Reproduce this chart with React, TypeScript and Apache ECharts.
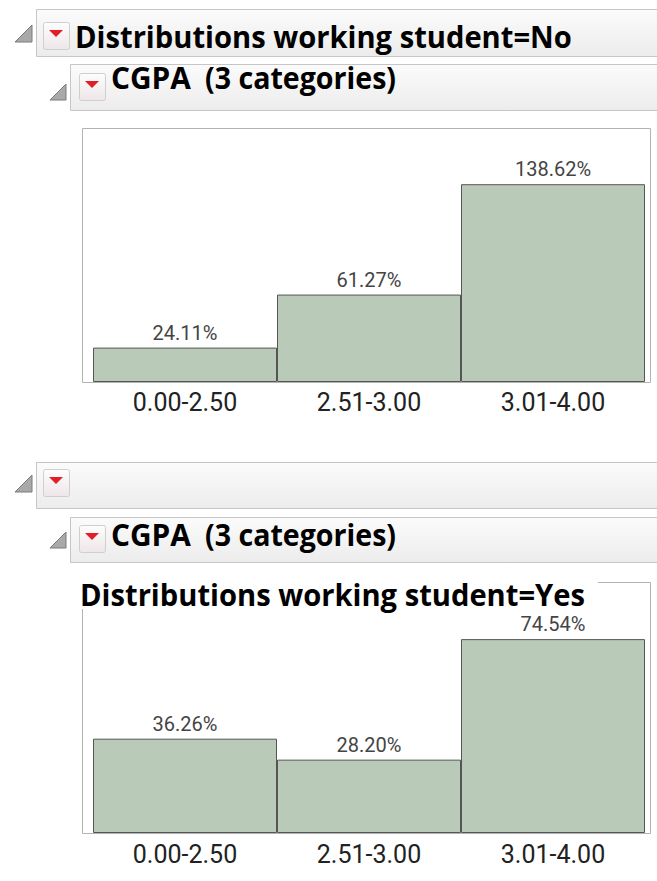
import React, { useEffect, useRef } from "react";
import * as echarts from "echarts";

const categories = ["0.00-2.50", "2.51-3.00", "3.01-4.00"];
const noValues = [24.11, 61.27, 138.62];
const yesValues = [36.26, 28.2, 74.54];
const titleNo = "Distributions working student=No";
const titleYes = "Distributions working student=Yes";
const varName = "CGPA";
const varNote = "(3 categories)";

const HFONT = '"Open Sans"';
const BAR = "#b9cbb8";

function measure(text: string, weight: string, size: number, family: string) {
  const ctx = document.createElement("canvas").getContext("2d") as CanvasRenderingContext2D;
  ctx.font = `${weight} ${size}px ${family}`;
  return ctx.measureText(text).width;
}

export default function App() {
  const ref = useRef<HTMLDivElement>(null);
  useEffect(() => {
    if (!ref.current) return;
    const chart = echarts.init(ref.current, null, { renderer: "svg" });

    const sTitle = 497 / measure(titleNo, "bold", 30, HFONT);
    const sName = 80 / measure(varName, "bold", 30, HFONT);
    const sNote = 191 / measure(varNote, "bold", 30, HFONT);

    const grad = () =>
      new echarts.graphic.LinearGradient(0, 0, 0, 1, [
        { offset: 0, color: "#fbfbfb" },
        { offset: 1, color: "#ececec" },
      ]);
    const iconGrad = () =>
      new echarts.graphic.LinearGradient(0, 0, 0, 1, [
        { offset: 0, color: "#fdfdfd" },
        { offset: 1, color: "#eee6e8" },
      ]);

    const headerBox = (x: number, y: number, h: number) => ({
      type: "rect",
      shape: { x: x + 0.5, y: y + 0.5, width: 700, height: h },
      style: { fill: grad(), stroke: "#c6c6c6", lineWidth: 1 },
    });
    const disclosure = (x: number, yb: number, s: number) => ({
      type: "polygon",
      shape: { points: [[x, yb], [x + s, yb], [x + s, yb - s]] },
      style: { fill: "#a9a9a9", stroke: "#7a7a7a", lineWidth: 1 },
    });
    const redIcon = (x: number, y: number) => [
      {
        type: "rect",
        shape: { x: x + 0.5, y: y + 0.5, width: 26, height: 27, r: 2 },
        style: { fill: iconGrad(), stroke: "#cfcfcf", lineWidth: 1 },
      },
      {
        type: "polygon",
        shape: { points: [[x + 6, y + 8], [x + 20, y + 8], [x + 13, y + 15]] },
        style: { fill: "#e11d27" },
      },
    ];
    const hText = (text: string, x: number, y: number, weight: string, sx: number) => ({
      type: "text",
      x,
      y,
      scaleX: sx,
      style: {
        text,
        fontFamily: HFONT,
        fontSize: 30,
        fontWeight: weight,
        fill: "#000",
        textAlign: "left",
        textVerticalAlign: "middle",
      },
    });
    const frame = (y: number, h: number) => ({
      type: "rect",
      shape: { x: 82.5, y: y + 0.5, width: 568, height: h },
      style: { fill: "none", stroke: "#b3b3b3", lineWidth: 1 },
    });

    const labelFmt = (p: any) => Number(p.value).toFixed(2) + "%";

    const xAxisCommon = {
      type: "category",
      data: categories,
      axisLine: { show: false },
      axisTick: { show: false },
      axisLabel: { fontFamily: "Roboto", fontSize: 25, color: "#222", margin: 8 },
    };
    const yAxisCommon = {
      type: "value",
      min: 0,
      axisLine: { show: false },
      axisTick: { show: false },
      axisLabel: { show: false },
      splitLine: { show: false },
    };
    const seriesCommon = {
      type: "bar",
      barCategoryGap: "0%",
      itemStyle: { color: BAR, borderColor: "#555", borderWidth: 1 },
      label: {
        show: true,
        position: "top",
        distance: 5,
        formatter: labelFmt,
        fontFamily: "Roboto",
        fontSize: 20,
        color: "#444",
      },
    };

    chart.setOption({
      animation: false,
      backgroundColor: "#ffffff",
      grid: [
        { left: 93, right: 12, top: 128, height: 254 },
        { left: 93, right: 12, top: 582, height: 251 },
      ],
      xAxis: [
        { ...xAxisCommon, gridIndex: 0 },
        { ...xAxisCommon, gridIndex: 1, axisLabel: { ...xAxisCommon.axisLabel, margin: 9 } },
      ],
      yAxis: [
        { ...yAxisCommon, gridIndex: 0, max: 178 },
        { ...yAxisCommon, gridIndex: 1, max: 96.5 },
      ],
      series: [
        { ...seriesCommon, xAxisIndex: 0, yAxisIndex: 0, data: noValues },
        { ...seriesCommon, xAxisIndex: 1, yAxisIndex: 1, data: yesValues },
      ],
      graphic: [
        frame(128, 254),
        frame(582, 251),
        headerBox(36, 9, 47),
        disclosure(15, 42, 17),
        ...redIcon(43, 22),
        hText(titleNo, 75, 36.5, "bold", sTitle),
        headerBox(70, 64, 46),
        disclosure(50, 100, 16),
        ...redIcon(79, 73),
        hText(varName, 111, 77.5, "bold", sName),
        hText(varNote, 205, 77.5, "bold", sNote),
        headerBox(36, 462, 46),
        disclosure(15, 492, 17),
        ...redIcon(43, 469),
        headerBox(70, 517, 45),
        disclosure(50, 548, 16),
        ...redIcon(79, 525),
        hText(varName, 111, 534.5, "bold", sName),
        hText(varNote, 205, 534.5, "bold", sNote),
        {
          type: "rect",
          shape: { x: 78, y: 576, width: 520, height: 33 },
          style: { fill: "#ffffff" },
        },
        hText(titleYes, 80, 594.5, "bold", sTitle),
      ],
    });
    return () => chart.dispose();
  }, []);
  return (
    <div
      ref={ref}
      style={{ position: "fixed", left: 0, top: 0, width: 657, height: 881, background: "#fff" }}
    />
  );
}
